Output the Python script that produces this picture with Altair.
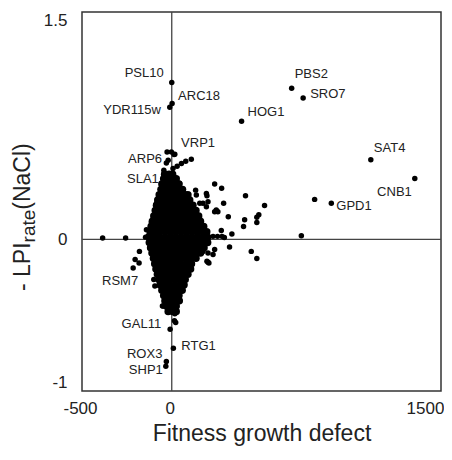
import altair as alt
import pandas as pd

# ---------------- data ----------------
genes = ["PSL10", "ARC18", "YDR115w", "PBS2", "SRO7", "HOG1", "SAT4", "CNB1",
         "GPD1", "VRP1", "ARP6", "SLA1", "RSM7", "GAL11", "RTG1", "ROX3", "SHP1"]
gene_x = [0, 2, -11, 668, 732, 389, 1109, 1354, 889, 13, -26, -44, -215, -9, 9, -30, -33]
gene_y = [1.035, 0.897, 0.871, 0.997, 0.932, 0.779, 0.526, 0.401, 0.238, 0.56,
          0.576, 0.456, -0.188, -0.592, -0.718, -0.806, -0.836]

other_x = [-385, -257, -146, -180, -204, -182, -131, -141, -113, -85, -67,
           239, 278, 411, 517, 485, 474, 406, 474, 400, 315, 335, 322, 443, 474, 722, 796,
           156, 196, 133, 137, 193, 174, 202, 193, 239, 257, 248, 289, 276, 230, 255, 280,
           293, 239, 230, 202, 207, 196, 202, 174,
           -2, 17, -20, -30, 109, 78, 54, 30, 7, -30, -11, -2, 26, 44,
           -100, -94, 72, -52, 41, -20, 17, 15, -48, 5, 13, 22]
other_y = [0.009, 0.009, 0.015, -0.079, -0.133, -0.155, 0.024, 0.063, 0.107, 0.238, 0.293,
           0.365, 0.338, 0.288, 0.223, 0.162, 0.146, 0.129, 0.111, 0.085, 0.149, 0.035, -0.05,
           -0.079, -0.126, 0.024, 0.264,
           0.238, 0.288, 0.325, 0.293, 0.303, 0.238, 0.249, 0.216, 0.183, 0.183, 0.194, 0.238,
           0.059, 0.02, 0.02, 0.02, 0.013, -0.067, -0.1, -0.151, -0.155, -0.144, -0.09, -0.079,
           0.576, 0.561, 0.522, 0.504, 0.528, 0.515, 0.5, 0.483, 0.467, 0.424, 0.413, 0.391,
           0.38, 0.369,
           -0.264, -0.308, -0.297, -0.44, -0.384, -0.45, -0.49, -0.537, -0.44, -0.406,
           -0.482, -0.548]

# dense core of the cloud, row by row (y level, x values on that row)
core_rows_y = [0.43, 0.40, 0.365, 0.33, 0.295, 0.26, 0.225, 0.19, 0.155, 0.12, 0.085,
               0.05, 0.015, -0.02, -0.055, -0.09, -0.125, -0.16, -0.195, -0.23, -0.265,
               -0.30, -0.335, -0.37, -0.405, -0.44, -0.475]
core_rows_x = [
    [-40, -15, 5],
    [-45, -20, 5, 25],
    [-55, -30, -5, 20, 40],
    [-60, -35, -10, 15, 40, 60],
    [-70, -45, -15, 15, 45, 75, 90],
    [-78, -50, -20, 10, 40, 70, 100],
    [-85, -60, -30, 0, 30, 60, 90, 118],
    [-92, -65, -35, -5, 25, 55, 85, 115, 135],
    [-100, -75, -45, -15, 15, 45, 75, 105, 135, 150],
    [-108, -80, -50, -20, 10, 40, 70, 100, 130, 160],
    [-115, -90, -60, -30, 0, 30, 60, 90, 120, 150, 178],
    [-120, -95, -65, -35, -5, 25, 55, 85, 115, 145, 175, 195],
    [-125, -100, -70, -40, -10, 20, 50, 80, 110, 140, 170, 200],
    [-125, -95, -65, -35, -5, 25, 55, 85, 115, 145, 175, 200],
    [-118, -90, -60, -30, 0, 30, 60, 90, 120, 150, 180],
    [-110, -80, -50, -20, 10, 40, 70, 100, 130, 160],
    [-102, -75, -45, -15, 15, 45, 75, 105, 135],
    [-95, -70, -40, -10, 20, 50, 80, 110],
    [-88, -60, -30, 0, 30, 60, 88, 105],
    [-80, -55, -25, 5, 35, 65, 90],
    [-72, -45, -15, 15, 45, 75],
    [-65, -40, -10, 20, 50, 68],
    [-55, -30, 0, 30, 58],
    [-45, -20, 10, 40],
    [-38, -10, 20, 42],
    [-30, -5, 25],
    [-20, 5, 25],
]

x_ticks = [-500, 0, 1500]
y_ticks = [-1, 0, 1.5]

# ---------------- tables ----------------
core_pts = [(xv, yv) for yv, xs in zip(core_rows_y, core_rows_x) for xv in xs]
core_df = pd.DataFrame({"x": [p[0] for p in core_pts], "y": [p[1] for p in core_pts]})
pts = pd.DataFrame({"x": other_x + gene_x, "y": other_y + gene_y})
gene_df = pd.DataFrame({"name": genes, "x": gene_x, "y": gene_y})

FONT = "Liberation Sans"
INK = "#222"

X = alt.X("x:Q", scale=alt.Scale(domain=[-500, 1500], nice=False, zero=False),
          axis=alt.Axis(values=x_ticks, title="Fitness growth defect", ticks=False,
                        domain=False, grid=False, labelFont=FONT, labelFontSize=17,
                        labelColor=INK, labelPadding=9, labelFlush=False,
                        labelExpr="toString(datum.value)",
                        labelOffset={"condition": {"test": "datum.value == 1500", "value": -16},
                                     "value": -2},
                        titleFont=FONT, titleFontSize=23, titleFontWeight="normal",
                        titleColor=INK, titleBaseline="alphabetic", titleY=49))
Y = alt.Y("y:Q", scale=alt.Scale(domain=[-1, 1.5], nice=False, zero=False),
          axis=alt.Axis(values=y_ticks, title=None, ticks=False, domain=False, grid=False,
                        labelFont=FONT, labelFontSize=17, labelColor=INK, labelPadding=15,
                        labelFlush=True, labelExpr="toString(datum.value)"))

vrule = alt.Chart(pd.DataFrame({"x": [0]})).mark_rule(color="#444", strokeWidth=1.3).encode(x=X)
hrule = alt.Chart(pd.DataFrame({"y": [0]})).mark_rule(color="#444", strokeWidth=1.3).encode(y=Y)

core = alt.Chart(core_df).mark_circle(size=56, color="black", opacity=1).encode(x=X, y=Y)
points = alt.Chart(pts).mark_circle(size=30, color="black", opacity=1).encode(x=X, y=Y)

label_style = {
    "PSL10": ("right", -8, -9),
    "ARC18": ("left", 6, -7),
    "YDR115w": ("right", -9, 3),
    "PBS2": ("left", 3, -14),
    "SRO7": ("left", 7, -4),
    "HOG1": ("left", 6, -9),
    "SAT4": ("left", 3, -12),
    "CNB1": ("right", -3, 13),
    "GPD1": ("left", 5, 3),
    "VRP1": ("left", 7, -12),
    "ARP6": ("right", -5, 7),
    "SLA1": ("right", -5, 9),
    "RSM7": ("right", 5, 13),
    "GAL11": ("right", -9, -5),
    "RTG1": ("left", 8, -2),
    "ROX3": ("right", -4, -8),
    "SHP1": ("right", -3, 4),
}
label_layers = []
for g in genes:
    al, dx, dy = label_style[g]
    label_layers.append(
        alt.Chart(gene_df).transform_filter(alt.datum.name == g)
        .mark_text(align=al, dx=dx, dy=dy, baseline="middle", font=FONT, fontSize=13, color=INK)
        .encode(x=X, y=Y, text="name:N")
    )

def ytitle(txt, px, py, size):
    return alt.Chart(pd.DataFrame({"t": [txt]})).mark_text(
        angle=270, align="left", baseline="alphabetic", font=FONT, fontSize=size, color=INK
    ).encode(text="t:N", x=alt.value(px), y=alt.value(py))

y_title = [
    ytitle("- LPI", -52, 279, 23),
    ytitle("rate", -47, 230.4, 19),
    ytitle("(NaCl)", -52, 197.7, 23),
]

chart = alt.layer(vrule, hrule, core, points, *label_layers, *y_title).properties(
    width=359, height=379,
    autosize="none",
    padding={"left": 74, "top": 4, "right": 3, "bottom": 55},
).configure_view(stroke="#333", strokeWidth=1.5)

chart.save("out.html", embed_options={"renderer": "svg", "actions": False})
